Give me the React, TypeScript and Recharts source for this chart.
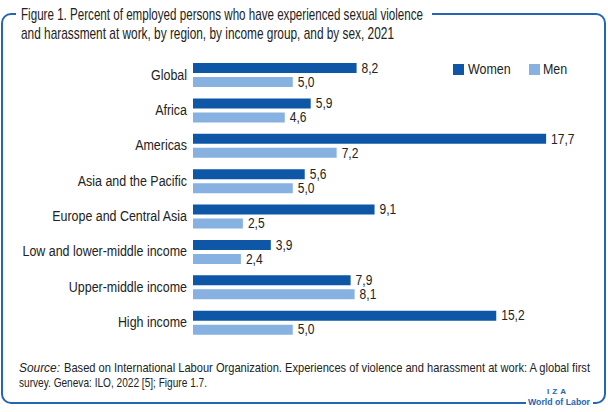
import React from 'react';
import { BarChart, Bar, XAxis, YAxis, LabelList } from 'recharts';

const regions = [
  'Global',
  'Africa',
  'Americas',
  'Asia and the Pacific',
  'Europe and Central Asia',
  'Low and lower-middle income',
  'Upper-middle income',
  'High income',
];
const women = [8.2, 5.9, 17.7, 5.6, 9.1, 3.9, 7.9, 15.2];
const men = [5.0, 4.6, 7.2, 5.0, 2.5, 2.4, 8.1, 5.0];

const DARK = '#0d57a6';
const LIGHT = '#86b1e0';
const FRAME = '#2466b3';
const FONT = '"Liberation Sans", Arial, sans-serif';
const SQ = 0.83; // squeeze to mimic a narrow face

const fmt = (v: number) => v.toFixed(1).replace('.', ',');

const data = regions.map((name, i) => ({ name, women: women[i], men: men[i] }));

const CatTick = (props: any) => {
  const { x, y, payload } = props;
  return (
    <text
      transform={`translate(${x},${y}) scale(${SQ},1)`}
      textAnchor="end"
      dominantBaseline="central"
      fontSize={15}
      fontFamily={FONT}
      fill="#222"
    >
      {payload.value}
    </text>
  );
};

const ValueLabel = (props: any) => {
  const { x, y, width, height, value } = props;
  return (
    <text
      transform={`translate(${x + width + 5},${y + height / 2}) scale(0.86,1)`}
      dominantBaseline="central"
      fontSize={14}
      fontFamily={FONT}
      fill="#222"
    >
      {fmt(value)}
    </text>
  );
};

const squeeze = (s: number): React.CSSProperties => ({
  transform: `scaleX(${s})`,
  transformOrigin: 'left top',
  whiteSpace: 'nowrap',
});

// narrow text line: squeezed by transform, then fitted to a width
const Line = ({ x, y, w, size, s = 0.86, italic = false, children }: any) => (
  <text
    transform={`translate(${x},${y}) scale(${s},1)`}
    fontSize={size}
    fill="#222"
    fontStyle={italic ? 'italic' : 'normal'}
    textLength={w / s}
    lengthAdjust="spacingAndGlyphs"
  >
    {children}
  </text>
);

export default function App() {
  return (
    <div style={{ position: 'absolute', top: 0, left: 0, width: 608, height: 412, background: '#fff', fontFamily: FONT, color: '#222', overflow: 'hidden' }}>
      {/* frame */}
      <div
        style={{
          position: 'absolute',
          left: 1,
          top: 13,
          width: 605,
          height: 391,
          border: `2px solid ${FRAME}`,
          borderRadius: 10,
          boxSizing: 'border-box',
        }}
      />

      <BarChart
        layout="vertical"
        width={608}
        height={412}
        data={data}
        margin={{ top: 57, right: 16, bottom: 72, left: 3 }}
        barSize={10}
        barGap={4}
        style={{ position: 'absolute', top: 0, left: 0 }}
      >
        <XAxis type="number" domain={[0, 20]} hide />
        <YAxis
          type="category"
          dataKey="name"
          width={190}
          axisLine={false}
          tickLine={false}
          tickSize={0}
          tickMargin={6}
          interval={0}
          tick={<CatTick />}
        />
        <Bar dataKey="women" name="Women" fill={DARK} isAnimationActive={false}>
          <LabelList dataKey="women" content={<ValueLabel />} />
        </Bar>
        <Bar dataKey="men" name="Men" fill={LIGHT} isAnimationActive={false}>
          <LabelList dataKey="men" content={<ValueLabel />} />
        </Bar>
      </BarChart>

      {/* legend */}
      <div style={{ position: 'absolute', left: 453, top: 64, width: 11, height: 11, background: DARK }} />
      <div style={{ position: 'absolute', left: 468, top: 60, fontSize: 15, lineHeight: '18px', ...squeeze(SQ) }}>Women</div>
      <div style={{ position: 'absolute', left: 529, top: 64, width: 11, height: 11, background: LIGHT }} />
      <div style={{ position: 'absolute', left: 543, top: 60, fontSize: 15, lineHeight: '18px', ...squeeze(SQ) }}>Men</div>

      {/* title, source, logo */}
      <svg width={608} height={412} style={{ position: 'absolute', top: 0, left: 0 }} fontFamily={FONT}>
        <rect x={16} y={4} width={416} height={44} fill="#fff" />
        <Line x={21} y={20} w={402} size={16}>
          Figure 1. Percent of employed persons who have experienced sexual violence
        </Line>
        <Line x={21} y={39} w={373} size={16}>
          and harassment at work, by region, by income group, and by sex, 2021
        </Line>

        <Line x={19} y={372} w={41} size={12.5} italic>
          Source:
        </Line>
        <Line x={64} y={372} w={526} size={12.5}>
          Based on International Labour Organization. Experiences of violence and harassment at work: A global first
        </Line>
        <Line x={19} y={387} w={188} size={12.5}>
          survey. Geneva: ILO, 2022 [5]; Figure 1.7.
        </Line>

        <rect x={526} y={398} width={67} height={10} fill="#fff" />
        <text x={558} y={394} fontSize={8} fontWeight="bold" fill={FRAME} textAnchor="middle" letterSpacing={3}>
          IZA
        </text>
        <text x={528} y={405} fontSize={9.5} fontWeight="bold" fill={FRAME} textLength={62} lengthAdjust="spacingAndGlyphs">
          World of Labor
        </text>
      </svg>
    </div>
  );
}
